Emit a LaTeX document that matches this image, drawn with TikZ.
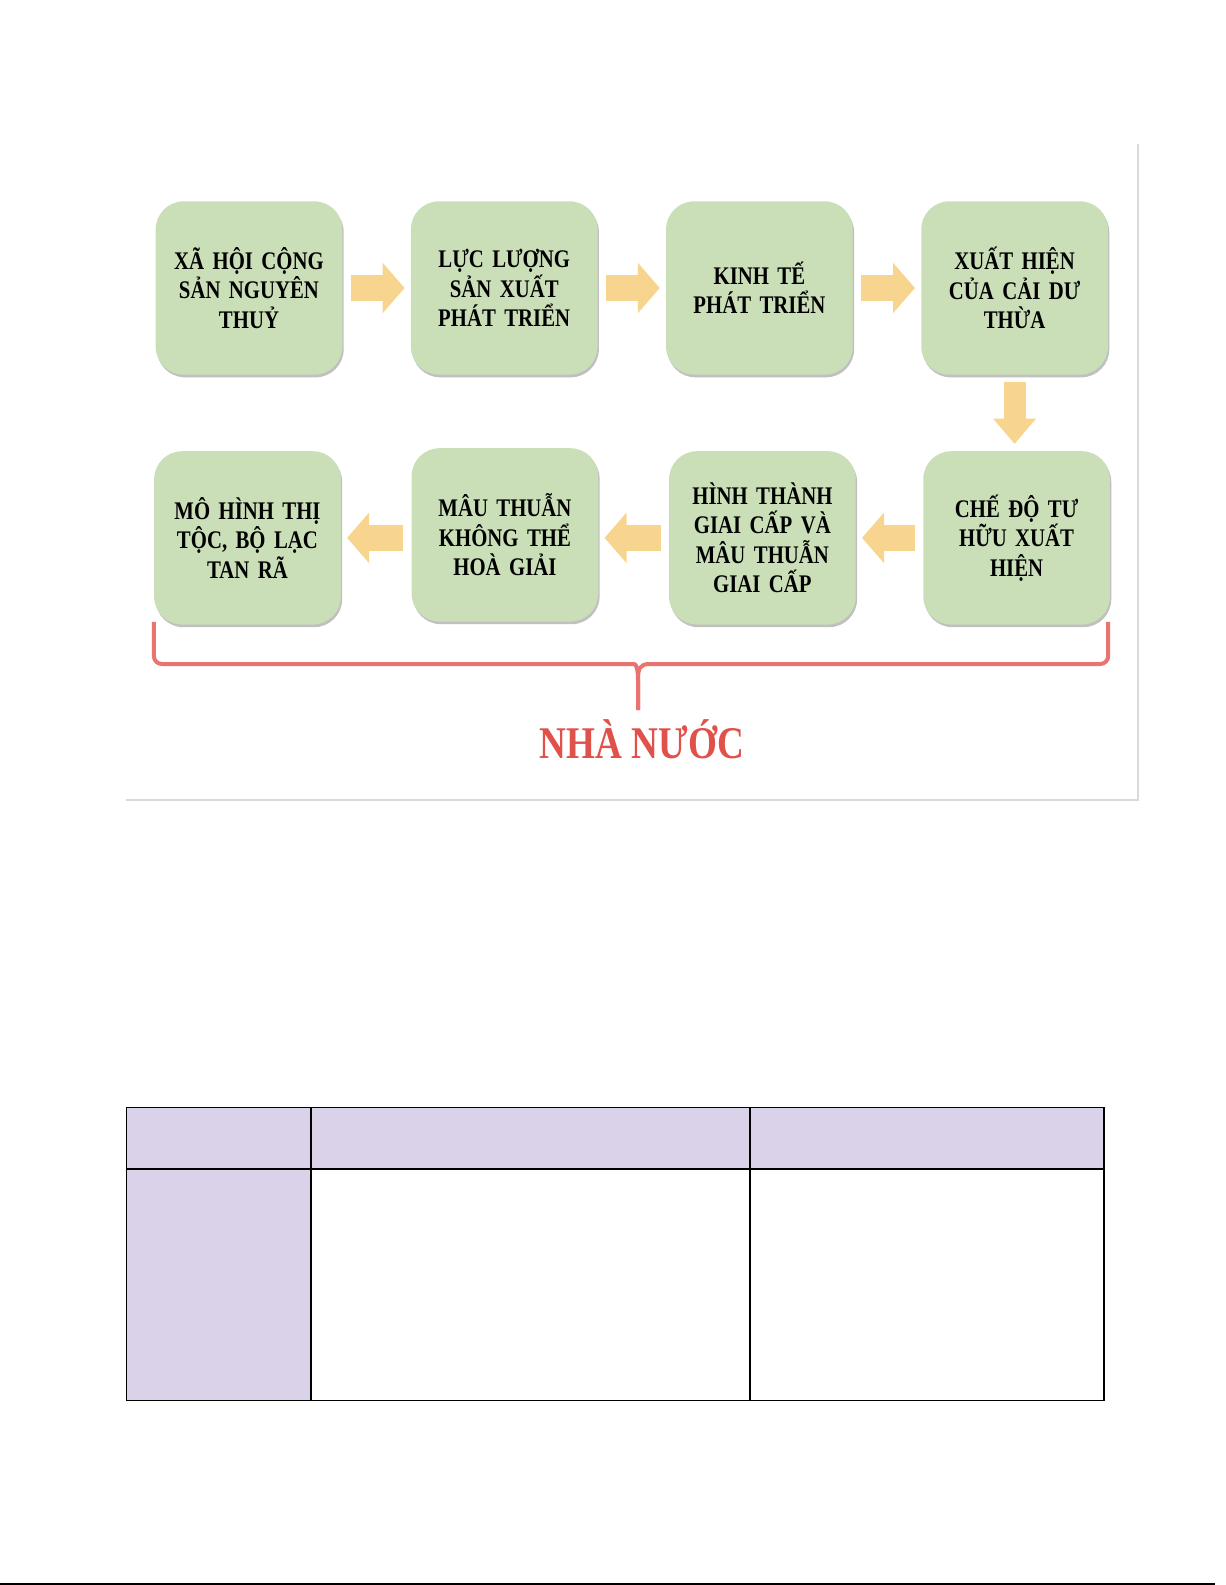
\documentclass[tikz,border=0pt]{standalone}
\usepackage{fontspec}
\setmainfont{Liberation Serif}
\newfontfamily\narrowserif{Liberation Serif}[FakeStretch=0.82]
\usetikzlibrary{positioning,calc,matrix,arrows.meta,shadows}
\definecolor{boxgreen}{HTML}{CADFB8}
\definecolor{arrowgold}{HTML}{F8D58F}
\definecolor{bracered}{HTML}{E8736F}
\definecolor{titlered}{HTML}{E0514B}
\definecolor{framegray}{HTML}{DADADA}
\definecolor{tablepurple}{HTML}{D9D2E9}
\tikzset{
stepbox/.style={
  rectangle, rounded corners=21pt, fill=boxgreen,
  minimum width=140pt, minimum height=130pt,
  text width=132pt, align=center, inner sep=0pt,
  font=\narrowserif\bfseries\fontsize{19}{22}\selectfont,
  drop shadow={shadow xshift=1pt, shadow yshift=-2pt, opacity=.45, fill=black!55}
  },
flow/.style={
  draw=arrowgold, line width=20pt,
  -{Triangle[width=37pt,length=16.5pt]},
  shorten <=6pt, shorten >=4.5pt
  },
flowdown/.style={
  draw=arrowgold, line width=16.5pt,
  -{Triangle[width=31pt,length=19pt]},
  shorten <=5.25pt, shorten >=5.25pt
  },
brace/.style={draw=bracered, line width=3pt},
title/.style={text=titlered, font=\narrowserif\bfseries\fontsize{34}{40}\selectfont},
table/.style={
  matrix of nodes,
  inner sep=0pt, outer sep=0pt,
  row sep=-\pgflinewidth,
  column sep=-\pgflinewidth,
  nodes={draw, line width=1.1pt, inner sep=0pt, anchor=center},
  nodes in empty cells,
  row 1/.style={nodes={fill=tablepurple, minimum height=45.75pt}},
  row 2/.style={nodes={minimum height=173.25pt}},
  column 1/.style={nodes={fill=tablepurple, minimum width=138pt}},
  column 2/.style={nodes={minimum width=328.5pt}},
  column 3/.style={nodes={minimum width=265pt}}
  }
}
\begin{document}
\begin{tikzpicture}[x=0.75pt, y=-0.75pt]
    \useasboundingbox (0,0) rectangle (1225,1585);
    % panel frame
    \draw[framegray, line width=0.8pt] (1138,144) -- (1138,800);
    \draw[framegray, line width=2pt] (126,800) -- (1139,800);

    % first row
    \node[stepbox] (b1) at (249,288) {XÃ HỘI CỘNG\\SẢN NGUYÊN\\THUỶ};
    \node[stepbox, right=51pt of b1] (b2) {LỰC LƯỢNG\\SẢN XUẤT\\PHÁT TRIỂN};
    \node[stepbox, right=51pt of b2] (b3) {KINH TẾ\\PHÁT TRIỂN};
    \node[stepbox, right=51pt of b3] (b4) {XUẤT HIỆN\\CỦA CẢI DƯ\\THỪA};
    % second row
    \node[stepbox, below=57pt of b4, xshift=1.5pt] (b8) {CHẾ ĐỘ TƯ\\HỮU XUẤT\\HIỆN};
    \node[stepbox, left=50.25pt of b8] (b7) {HÌNH THÀNH\\GIAI CẤP VÀ\\MÂU THUẪN\\GIAI CẤP};
    \node[stepbox, left=52.7pt of b7, yshift=2.25pt] (b6) {MÂU THUẪN\\KHÔNG THỂ\\HOÀ GIẢI};
    \node[stepbox, left=52.7pt of b6, yshift=-2.25pt] (b5) {MÔ HÌNH THỊ\\TỘC, BỘ LẠC\\TAN RÃ};

    \draw[flow] (b1) -- (b2);
    \draw[flow] (b2) -- (b3);
    \draw[flow] (b3) -- (b4);
    \draw[flowdown] (b4) -- (b4 |- b8.north);
    \draw[flow] (b8) -- (b7);
    \draw[flow] (b7) -- (b6.east |- b7);
    \draw[flow] (b6.west |- b5) -- (b5);

    % brace
    \coordinate (bl) at ($(b5.south west)+(0,-3)$);
    \coordinate (br) at ($(b8.south east)+(-2,-3)$);
    \coordinate (tip) at (638,710);
    \draw[brace] (bl) [rounded corners=6pt] |- (626,664) [sharp corners]
        .. controls (636,664) and (638,668) .. (638,680) -- (tip);
    \draw[brace] (tip) -- (638,680) .. controls (638,668) and (640,664) .. (650,664)
        [rounded corners=6pt] -| (br);
    \node[title, anchor=base] (state) at (642,758) {NHÀ NƯỚC};

    % table
    \matrix[table, anchor=north west] (tbl) at (126,1107)
    {
        & & \\
        & & \\
    };

    \draw[line width=1.1pt] (0,1584) -- (1215,1584);
\end{tikzpicture}
\end{document}
